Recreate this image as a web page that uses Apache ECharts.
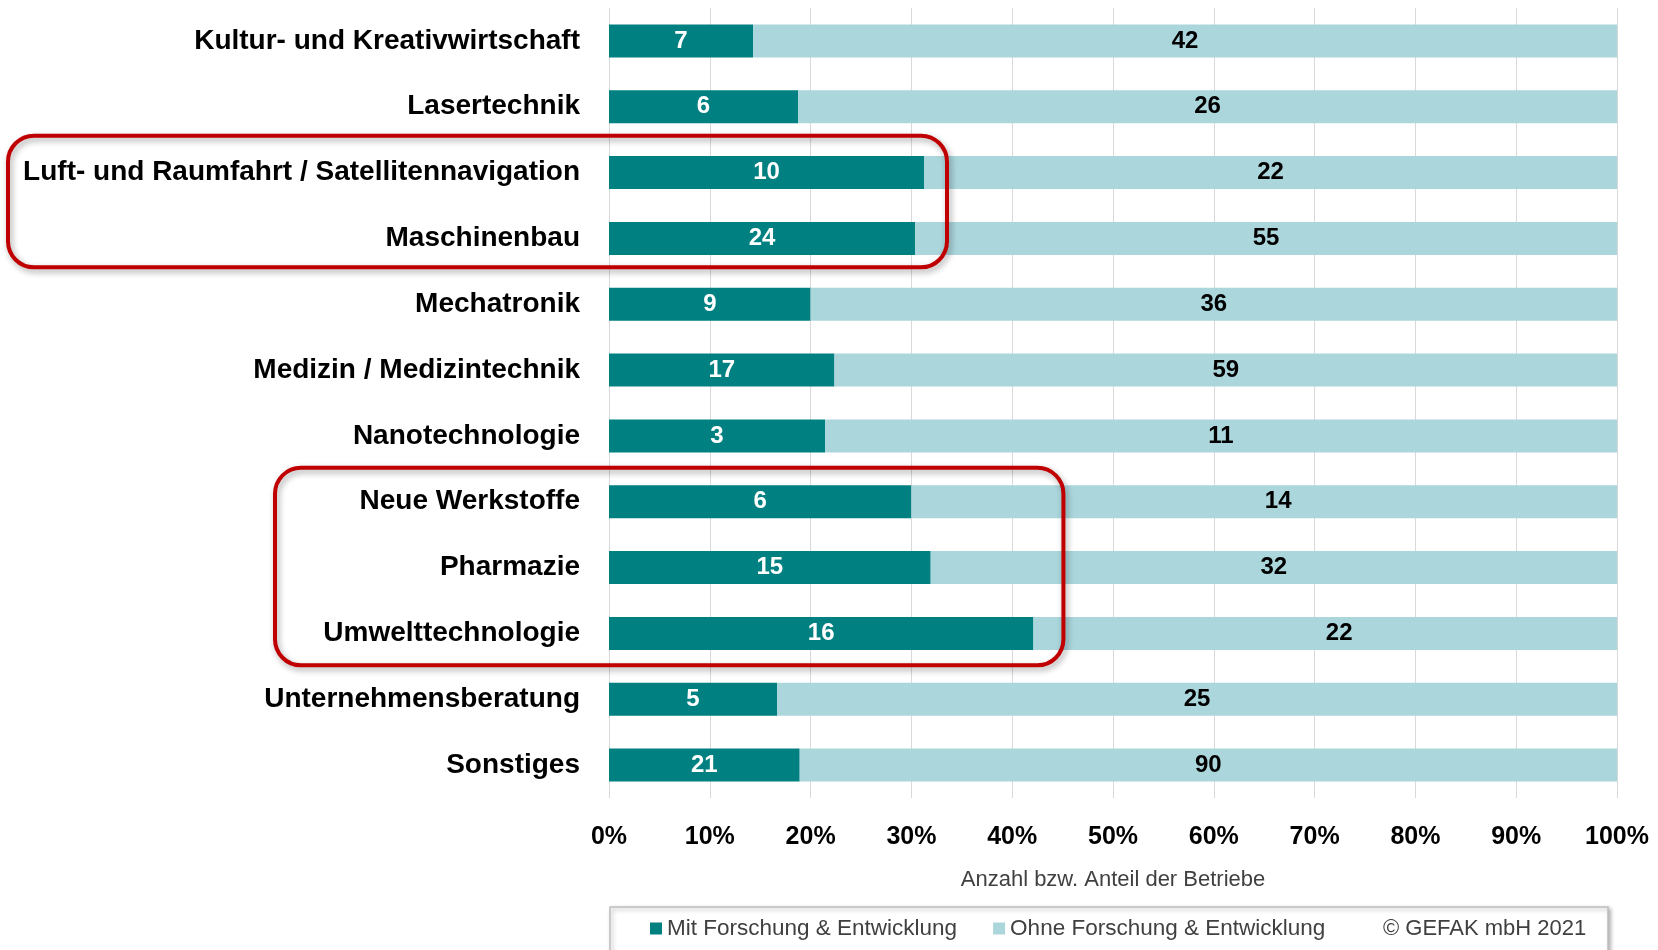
<!DOCTYPE html>
<html>
<head>
<meta charset="utf-8">
<script src="https://cdn.jsdelivr.net/npm/echarts@6/dist/echarts.min.js"></script>
<style>
html,body{margin:0;padding:0;background:#fff;}
#c{width:1658px;height:950px;}
</style>
</head>
<body>
<div id="c"></div>
<script>
const categories = [
  'Kultur- und Kreativwirtschaft',
  'Lasertechnik',
  'Luft- und Raumfahrt / Satellitennavigation',
  'Maschinenbau',
  'Mechatronik',
  'Medizin / Medizintechnik',
  'Nanotechnologie',
  'Neue Werkstoffe',
  'Pharmazie',
  'Umwelttechnologie',
  'Unternehmensberatung',
  'Sonstiges'
];
const withRD = [7, 6, 10, 24, 9, 17, 3, 6, 15, 16, 5, 21];
const withoutRD = [42, 26, 22, 55, 36, 59, 11, 14, 32, 22, 25, 90];
const xTicks = [0, 10, 20, 30, 40, 50, 60, 70, 80, 90, 100];
const seriesNames = ['Mit Forschung & Entwicklung', 'Ohne Forschung & Entwicklung'];
const copyrightText = '© GEFAK mbH 2021';
const highlightGroups = [
  ['Luft- und Raumfahrt / Satellitennavigation', 'Maschinenbau'],
  ['Neue Werkstoffe', 'Pharmazie', 'Umwelttechnologie']
];
// categories whose light-blue value label was nudged to the right in the original
const nudgedLabels = ['Neue Werkstoffe', 'Umwelttechnologie'];

const FONT = '"Liberation Sans", Arial, sans-serif';
const totals = withRD.map((v, i) => v + withoutRD[i]);
const pctWith = withRD.map((v, i) => ({ value: v / totals[i] * 100, count: v }));
const pctWithout = withoutRD.map((v, i) => {
  const d = { value: v / totals[i] * 100, count: v };
  if (nudgedLabels.includes(categories[i])) d.label = { offset: [14, 0] };
  return d;
});

const chart = echarts.init(document.getElementById('c'), null, { renderer: 'canvas' });
const option = {
  animation: false,
  textStyle: { fontFamily: FONT },
  grid: { left: 609, right: 41, top: 8, bottom: 152, containLabel: false },
  xAxis: {
    type: 'value', min: 0, max: 100, interval: 10,
    axisLine: { show: false }, axisTick: { show: false },
    splitLine: { show: true, lineStyle: { color: '#d9d9d9', width: 1 } },
    axisLabel: { formatter: '{value}%', color: '#000', fontWeight: 'bold', fontSize: 25, fontFamily: FONT, margin: 27 },
    name: 'Anzahl bzw. Anteil der Betriebe', nameLocation: 'middle', nameGap: 71,
    nameTextStyle: { color: '#404040', fontSize: 22, fontFamily: FONT }
  },
  yAxis: {
    type: 'category', data: categories, inverse: true,
    axisLine: { show: false }, axisTick: { show: false },
    axisLabel: { color: '#000', fontWeight: 'bold', fontSize: 28, fontFamily: FONT, margin: 29 }
  },
  legend: {
    data: seriesNames, left: 645, top: 912, itemWidth: 12, itemHeight: 12, itemGap: 36,
    icon: 'rect', textStyle: { color: '#404040', fontSize: 22.5, fontFamily: FONT }
  },
  series: [
    {
      name: seriesNames[0], type: 'bar', stack: 'a', data: pctWith, barWidth: 33,
      itemStyle: { color: '#008080' },
      label: { show: true, position: 'inside', formatter: p => p.data.count, color: '#fff', fontWeight: 'bold', fontSize: 24, fontFamily: FONT }
    },
    {
      name: seriesNames[1], type: 'bar', stack: 'a', data: pctWithout, barWidth: 33,
      itemStyle: { color: '#abd6dc' },
      label: { show: true, position: 'inside', formatter: p => p.data.count, color: '#000', fontWeight: 'bold', fontSize: 24, fontFamily: FONT }
    }
  ]
};
chart.setOption(option);

function drawAnnotations() {
  const graphics = [];
  const step = chart.convertToPixel({ yAxisIndex: 0 }, categories[1]) - chart.convertToPixel({ yAxisIndex: 0 }, categories[0]);
  const leftPads = [8, 275];
  const rightPads = [23, 30];
  const yShift = [-4, -1];
  highlightGroups.forEach((grp, gi) => {
    const idx = grp.map(n => categories.indexOf(n));
    const yTop = chart.convertToPixel({ yAxisIndex: 0 }, grp[0]) - step / 2 + yShift[gi];
    const yBot = chart.convertToPixel({ yAxisIndex: 0 }, grp[grp.length - 1]) + step / 2 + yShift[gi];
    const maxPct = Math.max(...idx.map(i => pctWith[i].value));
    const xRight = chart.convertToPixel({ xAxisIndex: 0 }, maxPct) + rightPads[gi];
    graphics.push({
      type: 'rect', z: 100,
      shape: { x: leftPads[gi], y: yTop, width: xRight - leftPads[gi], height: yBot - yTop, r: 26 },
      style: { fill: 'none', stroke: '#c00000', lineWidth: 4, shadowBlur: 6, shadowColor: 'rgba(0,0,0,0.35)', shadowOffsetX: 2, shadowOffsetY: 3 }
    });
  });
  // legend box
  graphics.push({
    type: 'rect', z: -1,
    shape: { x: 610, y: 907, width: 998, height: 60 },
    style: { fill: '#fff', stroke: '#bfbfbf', lineWidth: 1.5, shadowBlur: 4, shadowColor: 'rgba(0,0,0,0.3)', shadowOffsetX: 2, shadowOffsetY: 2 }
  });
  graphics.push({
    type: 'text', z: 10, x: 1383, y: 929,
    style: { text: copyrightText, fill: '#404040', font: '22px ' + FONT, verticalAlign: 'middle' }
  });
  chart.setOption({ graphic: graphics });
}
drawAnnotations();
</script>
</body>
</html>
